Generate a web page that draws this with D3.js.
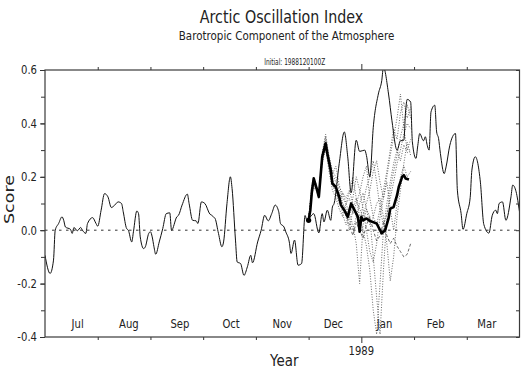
<!DOCTYPE html>
<html>
<head>
<meta charset="utf-8">
<script src="https://cdn.jsdelivr.net/npm/d3@7/dist/d3.min.js"></script>
<style>
  html, body { margin: 0; padding: 0; background: #fff; }
  svg { display: block; font-family: "DejaVu Sans", sans-serif; }
</style>
</head>
<body>
<svg id="chart" width="526" height="371"></svg>
<script>
// ---------------- DATA ----------------
const titleText = "Arctic Oscillation Index";
const subtitleText = "Barotropic Component of the Atmosphere";
const initialText = "Initial: 1988120100Z";
const xAxisTitle = "Year";
const yAxisTitle = "Score";
const yearLabel = "1989";

const monthLabels = ["Jul", "Aug", "Sep", "Oct", "Nov", "Dec", "Jan", "Feb", "Mar"];
const monthStarts = ["1988-07-01","1988-08-01","1988-09-01","1988-10-01","1988-11-01","1988-12-01",
                     "1989-01-01","1989-02-01","1989-03-01","1989-04-01"];
const yearTickDate = "1989-01-01";
const yTickValues = [-0.4, -0.2, 0.0, 0.2, 0.4, 0.6];
const yTickLabels = ["-0.4", "-0.2", "0.0", "0.2", "0.4", "0.6"];
const yMinorValues = [-0.4,-0.3,-0.2,-0.1,0.0,0.1,0.2,0.3,0.4,0.5,0.6];
const yDomain = [-0.4, 0.6];

// Observed AO index (thin solid line)
const obsDates = [
 "1988-07-01","1988-07-04","1988-07-06","1988-07-07","1988-07-09","1988-07-11","1988-07-12","1988-07-13",
 "1988-07-16","1988-07-17","1988-07-18","1988-07-20","1988-07-22","1988-07-23","1988-07-25","1988-07-26",
 "1988-07-29","1988-07-31","1988-08-01","1988-08-03","1988-08-05","1988-08-07","1988-08-09","1988-08-11",
 "1988-08-13","1988-08-15","1988-08-16","1988-08-18","1988-08-19","1988-08-21","1988-08-22","1988-08-24",
 "1988-08-25","1988-08-26","1988-08-28","1988-08-29","1988-08-31","1988-09-01","1988-09-02","1988-09-03",
 "1988-09-04","1988-09-06","1988-09-08","1988-09-10","1988-09-12","1988-09-13","1988-09-16","1988-09-17",
 "1988-09-19","1988-09-22","1988-09-23","1988-09-25","1988-09-27","1988-09-28","1988-09-30","1988-10-02",
 "1988-10-05","1988-10-06","1988-10-07","1988-10-08","1988-10-10","1988-10-12","1988-10-13","1988-10-15",
 "1988-10-17","1988-10-18","1988-10-20","1988-10-21","1988-10-23","1988-10-25","1988-10-27","1988-10-29",
 "1988-10-30","1988-11-02","1988-11-04","1988-11-06","1988-11-08","1988-11-10","1988-11-12","1988-11-14",
 "1988-11-15","1988-11-17","1988-11-18","1988-11-20","1988-11-21","1988-11-23","1988-11-25","1988-11-27",
 "1988-11-29","1988-11-30","1988-12-02","1988-12-04","1988-12-07","1988-12-09","1988-12-10","1988-12-12",
 "1988-12-14","1988-12-15","1988-12-16","1988-12-19","1988-12-22","1988-12-24","1988-12-26","1988-12-29",
 "1988-12-31","1989-01-03","1989-01-04","1989-01-06","1989-01-08","1989-01-11","1989-01-13","1989-01-14",
 "1989-01-17","1989-01-19","1989-01-22","1989-01-24","1989-01-26","1989-01-27","1989-01-28","1989-01-30",
 "1989-01-31","1989-02-02","1989-02-03","1989-02-04","1989-02-06","1989-02-07","1989-02-08","1989-02-09",
 "1989-02-10","1989-02-12","1989-02-13","1989-02-14","1989-02-15","1989-02-17","1989-02-18","1989-02-20",
 "1989-02-23","1989-02-24","1989-02-26","1989-02-27","1989-03-01","1989-03-03","1989-03-04","1989-03-06",
 "1989-03-09","1989-03-11","1989-03-14","1989-03-16","1989-03-18","1989-03-19","1989-03-20","1989-03-22",
 "1989-03-24","1989-03-27","1989-03-28","1989-03-30","1989-04-01"];
const obsValues = [
 -0.094,-0.162,-0.112,0.0,0.025,0.05,0.037,0.012,
 0.003,-0.012,0.01,-0.002,0.01,0.0,-0.012,0.025,
 0.047,0.025,0.015,0.075,0.137,0.125,0.085,0.094,
 0.106,0.1,0.069,0.006,0.0,-0.044,-0.006,0.072,
 0.062,-0.025,-0.069,-0.062,-0.012,-0.006,-0.025,-0.062,
 -0.09,-0.044,0.006,0.062,0.065,0.0,0.05,0.056,
 0.094,0.135,0.1,0.037,0.035,0.025,0.106,0.1,
 0.06,0.056,0.05,0.044,-0.012,-0.062,-0.044,0.1,
 0.2,0.156,-0.037,-0.119,-0.125,-0.169,-0.137,-0.094,
 -0.122,-0.044,0.0,0.056,0.035,0.062,0.094,0.069,
 0.025,0.012,-0.006,-0.044,-0.087,-0.037,-0.131,-0.125,
 0.055,0.037,0.05,0.062,-0.01,0.062,0.031,0.075,
 0.037,0.087,0.1,0.25,0.368,0.275,0.14,0.337,
 0.295,0.3,0.28,0.2,0.384,0.51,0.56,0.61,
 0.51,0.41,0.3,0.335,0.337,0.443,0.49,0.48,
 0.331,0.269,0.318,0.362,0.335,0.35,0.318,0.3,
 0.443,0.468,0.368,0.344,0.287,0.212,0.237,0.318,
 0.362,0.15,0.062,0.003,0.062,0.122,0.225,0.275,
 0.18,0.022,-0.011,0.056,0.075,0.062,0.1,0.106,
 0.037,0.125,0.169,0.144,0.069];

// Ensemble mean forecast (thick line)
const meanDates = [
 "1988-12-01","1988-12-02","1988-12-03","1988-12-04","1988-12-06","1988-12-07","1988-12-08","1988-12-09",
 "1988-12-11","1988-12-12","1988-12-14","1988-12-15","1988-12-17","1988-12-19","1988-12-20","1988-12-22",
 "1988-12-24","1988-12-26","1988-12-28","1988-12-30","1988-12-31","1989-01-01","1989-01-02","1989-01-04",
 "1989-01-06","1989-01-10","1989-01-12","1989-01-13","1989-01-15","1989-01-17","1989-01-18","1989-01-20",
 "1989-01-22","1989-01-23","1989-01-25","1989-01-26","1989-01-27","1989-01-29"];
const meanValues = [
 0.037,0.075,0.15,0.194,0.15,0.125,0.2,0.275,
 0.325,0.287,0.225,0.175,0.162,0.125,0.094,0.075,
 0.05,0.1,0.075,0.05,-0.006,0.05,0.037,0.044,
 0.035,0.025,0.0,-0.012,0.0,0.044,0.081,0.087,
 0.131,0.162,0.2,0.206,0.194,0.19];

// Ensemble members (dotted lines; last one dashed)
const memberDates = [
 "1988-12-01","1988-12-03","1988-12-05","1988-12-07","1988-12-09","1988-12-11","1988-12-13","1988-12-15",
 "1988-12-17","1988-12-19","1988-12-21","1988-12-23","1988-12-25","1988-12-27","1988-12-29","1988-12-31",
 "1989-01-02","1989-01-04","1989-01-06","1989-01-08","1989-01-10","1989-01-12","1989-01-14","1989-01-16",
 "1989-01-18","1989-01-20","1989-01-22","1989-01-24","1989-01-26","1989-01-28","1989-01-30"];
const member1 = [.04,.17,.18,.12,.29,.36,.27,.21,.24,.17,.12,.10,.14,.20,.12,.08,.05,.10,.15,.22,.26,.18,.12,.20,.28,.35,.42,.51,.38,.30,.34];
const member2 = [.04,.14,.16,.14,.25,.31,.22,.15,.12,.08,.05,.10,.06,.02,-.05,-.20,.02,.08,.05,-.10,-.25,-.39,-.15,.05,.15,.22,.28,.35,.40,.47,.42];
const member3 = [.04,.15,.18,.13,.28,.33,.27,.21,.18,.15,.10,.05,.00,.08,.12,.05,.00,-.06,-.15,-.30,-.39,-.20,.00,.10,.18,.25,.30,.26,.32,.29,.30];
const member4 = [.04,.15,.16,.12,.26,.30,.24,.17,.14,.10,.14,.12,.15,.10,.05,.10,.14,.08,.02,.05,.10,.12,.05,-.05,-.19,-.10,.05,.15,.25,.33,.28];
const member5 = [.04,.16,.17,.13,.27,.32,.25,.18,.16,.13,.06,.02,.05,.12,.20,.15,.08,.00,-.08,-.12,-.05,.05,.12,.18,.08,.00,.10,.20,.24,.20,.22];
const member6 = [.04,.15,.17,.14,.28,.34,.26,.19,.15,.12,.10,.08,.04,.00,.05,.02,.10,.16,.20,.26,.18,.08,.02,.06,.12,.18,.25,.30,.36,.40,.38];
const member8 = [.04,.16,.18,.13,.28,.35,.28,.22,.20,.16,.14,.10,.12,.06,.10,.14,.20,.24,.12,.05,.02,.08,.15,.22,.30,.38,.34,.44,.48,.42,.46];
const member7 = [.04,.15,.17,.13,.27,.31,.24,.17,.15,.11,.08,.06,.02,-.02,.03,.00,-.03,.02,.05,.00,-.04,-.02,.03,-.02,-.05,-.03,-.06,-.08,-.10,-.09,-.05];
const dottedMembers = [member1, member2, member3, member4, member5, member6, member8];
const dashedMembers = [member7];

// ---------------- CHART ----------------
const W = 526, H = 371;
const M = { left: 45, right: 6.5, top: 70, bottom: 34 };
const SX = 0.84; // horizontal glyph compression of the reference

// month position: Jul 1988 = 0, each month one unit (uniform months)
function monthPos(s) {
  const [yy, mm, dd] = s.split("-").map(Number);
  const dim = new Date(yy, mm, 0).getDate();
  return (yy - 1988) * 12 + (mm - 7) + (dd - 1) / dim;
}

const svg = d3.select("#chart");
const x = d3.scaleLinear().domain([monthPos(monthStarts[0]), monthPos(monthStarts[monthStarts.length - 1])])
  .range([M.left, W - M.right]);
const y = d3.scaleLinear().domain(yDomain).range([H - M.bottom, M.top]);

const x0 = x.range()[0], x1 = x.range()[1], y0 = y.range()[1], y1 = y.range()[0];
const ink = "#222";

svg.append("defs").append("clipPath").attr("id", "clip")
  .append("rect").attr("x", x0).attr("y", y0).attr("width", x1 - x0).attr("height", y1 - y0);

// zero line
svg.append("line")
  .attr("x1", x0).attr("x2", x1).attr("y1", y(0)).attr("y2", y(0))
  .attr("stroke", "#333").attr("stroke-width", 1).attr("stroke-dasharray", "2.5,4.5");

const plot = svg.append("g").attr("clip-path", "url(#clip)");

function series(dates, vals) { return dates.map((d, i) => ({ t: monthPos(d), v: vals[i] })); }
const lineLin = d3.line().x(d => x(d.t)).y(d => y(d.v));
const lineSmooth = d3.line().x(d => x(d.t)).y(d => y(d.v)).curve(d3.curveMonotoneX);

// ensemble members
dottedMembers.forEach(m => {
  plot.append("path").datum(series(memberDates, m)).attr("d", lineLin)
    .attr("fill", "none").attr("stroke", "#444").attr("stroke-width", 0.8)
    .attr("stroke-dasharray", "1,1.6");
});
dashedMembers.forEach(m => {
  plot.append("path").datum(series(memberDates, m)).attr("d", lineLin)
    .attr("fill", "none").attr("stroke", "#444").attr("stroke-width", 0.8)
    .attr("stroke-dasharray", "3,2");
});

// observed
plot.append("path").datum(series(obsDates, obsValues)).attr("d", lineSmooth)
  .attr("fill", "none").attr("stroke", "#111").attr("stroke-width", 1);

// ensemble mean
const meanS = series(meanDates, meanValues);
plot.append("path").datum(meanS).attr("d", lineLin)
  .attr("fill", "none").attr("stroke", "#000").attr("stroke-width", 2.6)
  .attr("stroke-linejoin", "round");
plot.append("circle").attr("cx", x(meanS[0].t)).attr("cy", y(meanS[0].v)).attr("r", 2.6).attr("fill", "#000");

// ---------- axes (ticks) ----------
const tickStroke = "#333";
function styleAxis(g) {
  g.select(".domain").remove();
  g.selectAll(".tick line").attr("stroke", tickStroke).attr("stroke-width", 1);
  g.selectAll(".tick text").remove();
}
const monthTickVals = monthStarts.slice(1, -1).map(monthPos);
const yearTick = monthPos(yearTickDate);
const normalMonthTicks = monthTickVals.filter(v => v !== yearTick);

svg.append("g").attr("transform", `translate(0,${y0})`)
  .call(d3.axisTop(x).tickValues(normalMonthTicks).tickSize(3)).call(styleAxis);
svg.append("g").attr("transform", `translate(0,${y0})`)
  .call(d3.axisTop(x).tickValues([yearTick]).tickSize(6)).call(styleAxis);
svg.append("g").attr("transform", `translate(0,${y1})`)
  .call(d3.axisBottom(x).tickValues(normalMonthTicks).tickSize(3)).call(styleAxis);
svg.append("g").attr("transform", `translate(0,${y1})`)
  .call(d3.axisBottom(x).tickValues([yearTick]).tickSize(6)).call(styleAxis);

svg.append("g").attr("transform", `translate(${x0},0)`)
  .call(d3.axisLeft(y).tickValues(yMinorValues).tickSize(4)).call(styleAxis);
svg.append("g").attr("transform", `translate(${x0},0)`)
  .call(d3.axisLeft(y).tickValues(yTickValues).tickSize(5)).call(styleAxis);
svg.append("g").attr("transform", `translate(${x1},0)`)
  .call(d3.axisLeft(y).tickValues(yMinorValues).tickSize(3.5)).call(styleAxis);

// frame
svg.append("rect").attr("x", x0).attr("y", y0).attr("width", x1 - x0).attr("height", y1 - y0)
  .attr("fill", "none").attr("stroke", "#3a3a3a").attr("stroke-width", 1.2);

// ---------- text ----------
function label(str, tx, ty, size, anchor, rot) {
  return svg.append("text")
    .attr("transform", `translate(${tx},${ty}) scale(${SX},1)` + (rot ? ` rotate(${rot})` : ""))
    .attr("font-size", size).attr("text-anchor", anchor || "middle").attr("fill", ink)
    .text(str);
}

// y tick labels
yTickValues.forEach((v, i) => {
  label(yTickLabels[i], x0 - 8, y(v) + 4.3, 12, "end");
});

// month labels inside plot (mid-month, slightly drawn toward centre as in reference)
const xc = (x0 + x1) / 2;
monthLabels.forEach((m, i) => {
  const px = xc + 0.97 * (x(i + 0.5) - xc);
  label(m, px, y1 - 9, 12, "middle");
});

// year label
label(yearLabel, x(yearTick), y1 + 18, 12, "middle");

// axis titles
label(xAxisTitle, xc + 2, H - 5, 16, "middle");
label(yAxisTitle, 14, (y0 + y1) / 2 - 4, 17.5, "middle", -90);

// titles
label(titleText, 281.5, 23, 17, "middle");
label(subtitleText, 286.5, 39.5, 12.3, "middle");
svg.append("text").attr("x", 294.7).attr("y", 65).attr("font-size", 9).attr("text-anchor", "middle")
  .attr("fill", ink).attr("textLength", 61).attr("lengthAdjust", "spacingAndGlyphs").text(initialText);
</script>
</body>
</html>
